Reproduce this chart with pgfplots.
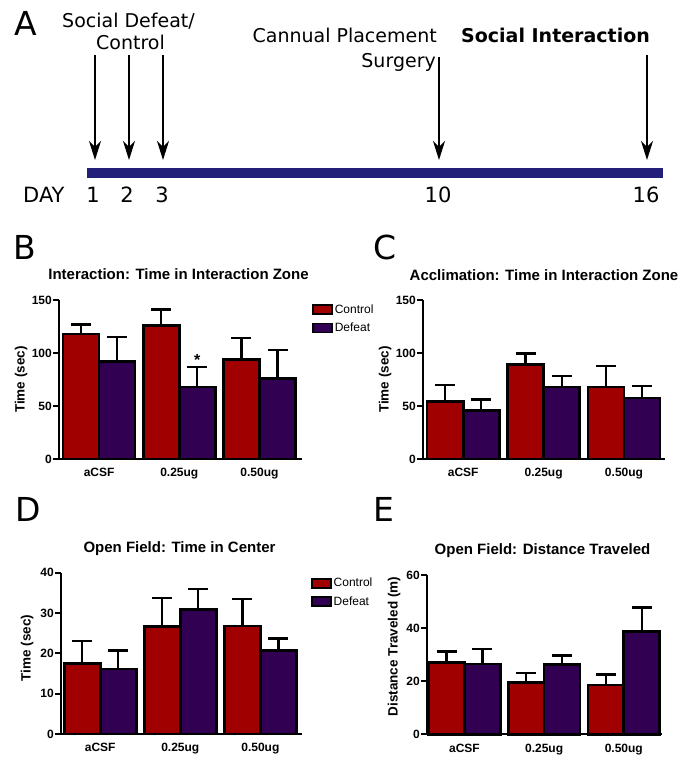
\documentclass[border=0pt]{standalone}
\usepackage{fontspec}
\setmainfont{Liberation Sans}
\newfontfamily\djv{DejaVu Sans}
\usepackage{pgfplots}
\pgfplotsset{compat=1.18}
\usetikzlibrary{arrows.meta}

\definecolor{ctrl}{RGB}{160,0,0}
\definecolor{dft}{RGB}{50,0,82}
\definecolor{navy}{RGB}{36,32,122}

\newcommand\fs[1]{\fontsize{#1}{#1}\selectfont}

\pgfplotsset{
  panel/.style={
    scale only axis,
    axis x line*=bottom, axis y line*=left,
    axis line style={line width=2.3pt},
    ymin=0, clip=false,
    xtick={0,1,2}, xticklabels={aCSF,0.25ug,0.50ug},
    x tick label style={font=\fs{12}\bfseries},
    y tick label style={font=\fs{12}\bfseries, inner xsep=1pt},
    /pgf/number format/assume math mode=true,
    tick align=outside,
    major tick length=6pt,
    ytick style={line width=2.3pt, black},
    xtick style={draw=none},
    ybar, bar width=0.45,
    ylabel style={font=\fs{13.5}\bfseries, anchor=center},
  },
  ctrlbars/.style={fill=ctrl, draw=black, line width=2.6pt, bar shift=-0.225,
    legend image code/.code={\draw[fill=ctrl,draw=black,line width=1.6pt] (0pt,-4.5pt) rectangle (19pt,4.5pt);},
    error bars/.cd, y dir=plus, y explicit,
    error bar style={line width=2.3pt, black},
    error mark options={rotate=90, black, line width=2.3pt, mark size=10pt}},
  dftbars/.style={fill=dft, draw=black, line width=2.6pt, bar shift=0.225,
    legend image code/.code={\draw[fill=dft,draw=black,line width=1.6pt] (0pt,-4.5pt) rectangle (19pt,4.5pt);},
    error bars/.cd, y dir=plus, y explicit,
    error bar style={line width=2.3pt, black},
    error mark options={rotate=90, black, line width=2.3pt, mark size=10pt}},
  lgd/.style={
    legend style={draw=none, fill=none, font=\fs{12}, inner sep=0pt,
      row sep=4pt, cells={anchor=west}},
  },
}

\begin{document}
\begin{tikzpicture}[x=1pt,y=1pt]
\path[use as bounding box] (0,0) rectangle (684,760);
\coordinate (pB) at (59,301);
\coordinate (pC) at (423,301);
\coordinate (pD) at (61,26);
\coordinate (pE) at (427,25.7);

% ---- A: timeline ----
\fill[navy] (87,582) rectangle (663,592);
\foreach \x/\t in {95/705,129/705,163/705,439/703,647/705}
  \draw[line width=1.3pt, -{Stealth[length=19pt,width=12pt,inset=6pt]}] (\x,\t) -- (\x,600);
\node[anchor=base west, inner sep=0, font=\djv\fs{33}] at (14,724) {A};
\node[anchor=base west, inner sep=0, font=\djv\fs{19}] at (62,732) {Social Defeat/};
\node[anchor=base west, inner sep=0, font=\djv\fs{19}] at (96,710) {Control};
\node[anchor=base east, inner sep=0, font=\djv\fs{19}] at (437,717) {Cannual Placement};
\node[anchor=base east, inner sep=0, font=\djv\fs{19}] at (436,692) {Surgery};
\node[anchor=base west, inner sep=0, font=\djv\bfseries\fs{19}] at (461,717) {Social Interaction};
\node[anchor=base west, inner sep=0, font=\djv\fs{21}] at (23,557) {DAY};
\foreach \x/\d in {93/1,127/2,162/3,438/10,646/16}
  \node[anchor=base, inner sep=0, font=\djv\fs{21}] at (\x,557) {\d};

% ---- panel letters and titles ----
\node[anchor=base west, inner sep=0, font=\djv\fs{33}] at (13,500) {B};
\node[anchor=base west, inner sep=0, font=\djv\fs{33}] at (373,500) {C};
\node[anchor=base west, inner sep=0, font=\djv\fs{33}] at (15,238) {D};
\node[anchor=base west, inner sep=0, font=\djv\fs{33}] at (373,238) {E};
\node[anchor=base, inner sep=0, font=\bfseries\fs{15}] at (178.5,480) {Interaction: Time in Interaction Zone};
\node[anchor=base, inner sep=0, font=\bfseries\fs{15}] at (544,479) {Acclimation: Time in Interaction Zone};
\node[anchor=base, inner sep=0, font=\bfseries\fs{15}] at (179.5,207) {Open Field: Time in Center};
\node[anchor=base, inner sep=0, font=\bfseries\fs{15}] at (542.5,205) {Open Field: Distance Traveled};

% ---- B ----
\begin{axis}[panel, lgd, at={(pB)}, anchor=south west,
  width=243pt, height=159pt, xmin=-0.5, xmax=2.53,
  ymax=150, ytick={0,50,100,150},
  ylabel={Time (sec)}, ylabel style={at={(axis description cs:-0.156,0.5)}},
  legend style={at={(axis description cs:1.041,0.985)}, anchor=north west}]
\addplot[ctrlbars] coordinates {(0,118) +- (0,9) (1,126) +- (0,15) (2,94) +- (0,20)};
\addplot[dftbars] coordinates {(0,92) +- (0,23) (1,68) +- (0,19) (2,76) +- (0,27)};
\legend{Control, Defeat}
\node[anchor=base, inner sep=0, font=\bfseries\fs{16}] at (axis cs:1.225,88) {*};
\end{axis}

% ---- C ----
\begin{axis}[panel, at={(pC)}, anchor=south west,
  width=242pt, height=159pt, xmin=-0.5, xmax=2.51,
  ymax=150, ytick={0,50,100,150},
  ylabel={Time (sec)}, ylabel style={at={(axis description cs:-0.157,0.5)}}]
\addplot[ctrlbars] coordinates {(0,54) +- (0,15.5) (1,89) +- (0,10.5) (2,68) +- (0,19.5)};
\addplot[dftbars] coordinates {(0,46) +- (0,10) (1,68) +- (0,10) (2,57.5) +- (0,11.5)};
\end{axis}

% ---- D ----
\begin{axis}[panel, lgd, at={(pD)}, anchor=south west,
  width=241pt, height=161.3pt, xmin=-0.49, xmax=2.52,
  ymax=40, ytick={0,10,20,30,40},
  ylabel={Time (sec)}, ylabel style={at={(axis description cs:-0.14,0.533)}},
  legend style={at={(axis description cs:1.037,0.98)}, anchor=north west}]
\addplot[ctrlbars] coordinates {(0,17.5) +- (0,5.6) (1,26.6) +- (0,7.2) (2,26.8) +- (0,6.6)};
\addplot[dftbars] coordinates {(0,16.1) +- (0,4.6) (1,30.9) +- (0,5.1) (2,20.7) +- (0,3.0)};
\legend{Control, Defeat}
\end{axis}

% ---- E ----
\begin{axis}[panel, at={(pE)}, anchor=south west,
  width=235pt, height=159pt, xmin=-0.47, xmax=2.48,
  ymax=60, ytick={0,20,40,60},
  ylabel={Distance Traveled (m)}, ylabel style={at={(axis description cs:-0.14,0.551)}}]
\addplot[ctrlbars] coordinates {(0,27.2) +- (0,4.0) (1,19.5) +- (0,3.5) (2,18.6) +- (0,4.0)};
\addplot[dftbars] coordinates {(0,26.5) +- (0,5.7) (1,26.3) +- (0,3.4) (2,38.9) +- (0,9.0)};
\end{axis}
\end{tikzpicture}
\end{document}
